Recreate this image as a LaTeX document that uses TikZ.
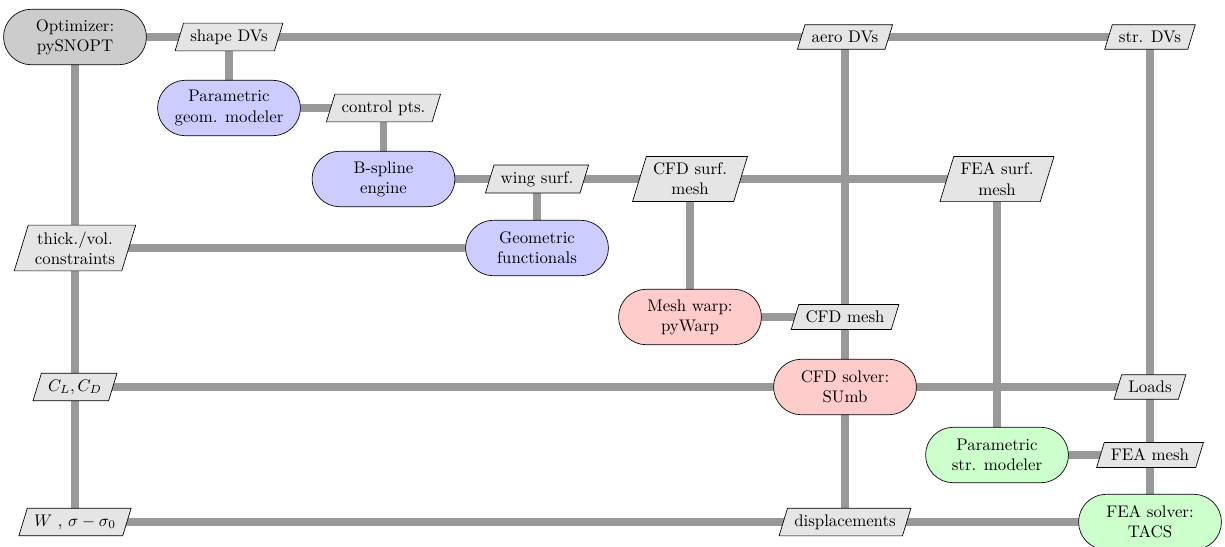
\documentclass[tikz,border=0pt]{standalone}
\usetikzlibrary{shapes.geometric,backgrounds}

\tikzset{
  proc/.style={draw=black, rectangle, rounded corners=16.5pt, minimum width=85pt,
    minimum height=33pt, align=center, inner sep=2pt},
  optim/.style={proc, fill=black!20},
  geomproc/.style={proc, fill=blue!20},
  aeroproc/.style={proc, fill=red!20},
  strproc/.style={proc, fill=green!20},
  datum/.style={draw=black, fill=black!10, trapezium, trapezium left angle=73,
    trapezium right angle=107, align=center, inner xsep=4pt, inner ysep=3.8pt},
  flow/.style={draw=black!40, line width=4.7pt},
}

\begin{document}
\begin{tikzpicture}[x=0.595pt, y=-0.595pt]
\useasboundingbox (0,0) rectangle (1225,546);

% grid of the layout: columns and rows
\def\ca{75}\def\cb{229}\def\cc{383.5}\def\cd{537}
\def\ce{690}\def\cf{845}\def\cg{997}\def\ch{1150}
\def\ra{37}\def\rb{108}\def\rc{179}\def\rd{248}
\def\re{317}\def\rf{387}\def\rg{455}\def\rh{522}

% processes
\node[optim]    (opt)    at (\ca,\ra) {Optimizer:\\pySNOPT};
\node[geomproc] (geom)   at (\cb,\rb) {Parametric\\geom. modeler};
\node[geomproc] (bspl)   at (\cc,\rc) {B-spline\\engine};
\node[geomproc] (gfun)   at (\cd,\rd) {Geometric\\functionals};
\node[aeroproc] (warp)   at (\ce,\re) {Mesh warp:\\pyWarp};
\node[aeroproc] (cfd)    at (\cf,\rf) {CFD solver:\\SUmb};
\node[strproc]  (strmod) at (\cg,\rg) {Parametric\\str. modeler};
\node[strproc]  (fea)    at (\ch,\rh) {FEA solver:\\TACS};

% data
\node[datum] (shapedv) at (\cb,\ra) {shape DVs};
\node[datum] (aerodv)  at (\cf,\ra) {aero DVs};
\node[datum] (strdv)   at (\ch,\ra) {str. DVs};
\node[datum] (ctrl)    at (\cc,\rb) {control pts.};
\node[datum] (wing)    at (\cd,\rc) {wing surf.};
\node[datum] (cfdsurf) at (\ce,\rc) {CFD surf.\\mesh};
\node[datum] (feasurf) at (\cg,\rc) {FEA surf.\\mesh};
\node[datum] (thick)   at (\ca,\rd) {thick./vol.\\constraints};
\node[datum] (cfdmesh) at (\cf,\re) {CFD mesh};
\node[datum] (clcd)    at (\ca,\rf) {$C_L, C_D$};
\node[datum] (loads)   at (\ch,\rf) {Loads};
\node[datum] (feamesh) at (\ch,\rg) {FEA mesh};
\node[datum] (wsig)    at (\ca,\rh) {$W$ , $\sigma - \sigma_0$};
\node[datum] (disp)    at (\cf,\rh) {displacements};

% data connections
\begin{pgfonlayer}{background}
  \draw[flow] (opt.center) -- (shapedv.center) -- (aerodv.center) -- (strdv.center);
  \draw[flow] (opt.center) -- (thick.center) -- (clcd.center) -- (wsig.center);
  \draw[flow] (shapedv.center) -- (geom.center);
  \draw[flow] (geom.center) -- (ctrl.center);
  \draw[flow] (ctrl.center) -- (bspl.center);
  \draw[flow] (bspl.center) -- (wing.center) -- (cfdsurf.center) -- (feasurf.center);
  \draw[flow] (wing.center) -- (gfun.center);
  \draw[flow] (thick.center) -- (gfun.center);
  \draw[flow] (cfdsurf.center) -- (warp.center);
  \draw[flow] (warp.center) -- (cfdmesh.center);
  \draw[flow] (aerodv.center) -- (cfdmesh.center) -- (cfd.center) -- (disp.center);
  \draw[flow] (clcd.center) -- (cfd.center) -- (loads.center);
  \draw[flow] (feasurf.center) -- (strmod.center);
  \draw[flow] (strmod.center) -- (feamesh.center);
  \draw[flow] (strdv.center) -- (loads.center) -- (feamesh.center) -- (fea.center);
  \draw[flow] (wsig.center) -- (disp.center) -- (fea.center);
\end{pgfonlayer}
\end{tikzpicture}
\end{document}
